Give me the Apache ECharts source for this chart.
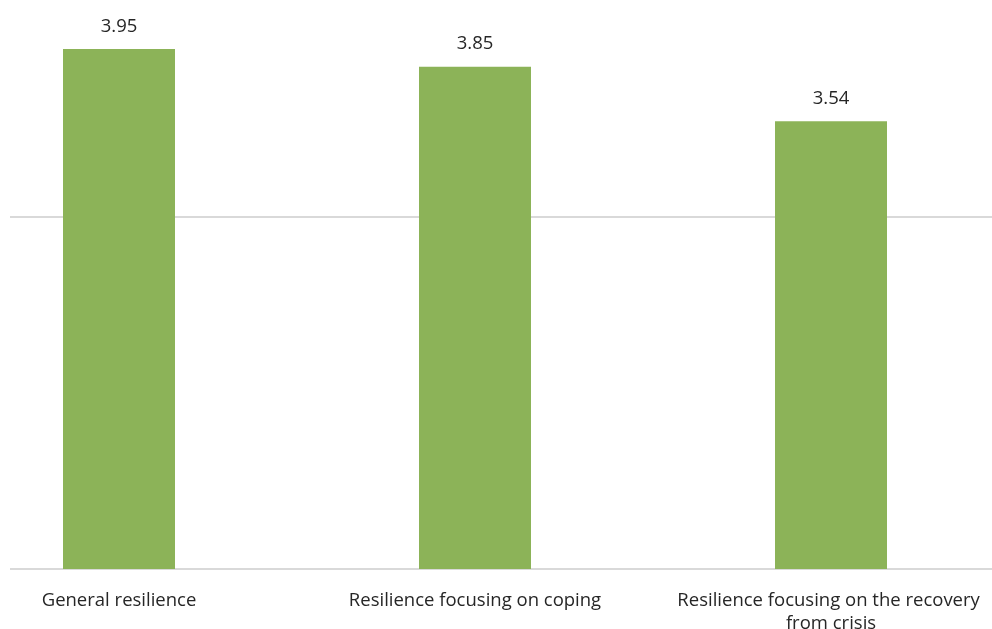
<!DOCTYPE html>
<html><head><meta charset="utf-8">
<script src="https://cdn.jsdelivr.net/npm/echarts@6/dist/echarts.min.js"></script>
<style>html,body{margin:0;padding:0;background:#fff}#c{width:992px;height:629px}</style>
</head><body><div id="c"></div>
<script>
const categories = ["General resilience", "Resilience focusing on coping", "Resilience focusing on the recovery from crisis"];
const values = [3.95, 3.85, 3.54];
const axisMin = 1, axisMax = 5, axisInterval = 2;

const chart = echarts.init(document.getElementById('c'), null, {renderer: 'canvas'});
chart.setOption({
  animation: false,
  backgroundColor: '#ffffff',
  grid: {left: -59, right: -17, top: -136, bottom: 60, containLabel: false, outerBoundsMode: 'none'},
  xAxis: {
    type: 'category', data: categories,
    axisLine: {show: false}, axisTick: {show: false},
    axisLabel: {
      interval: 0, margin: 20, color: '#262626',
      fontFamily: 'Open Sans', fontSize: 18.5, lineHeight: 23,
      width: 320, overflow: 'break'
    }
  },
  yAxis: {
    type: 'value', min: axisMin, max: axisMax, interval: axisInterval,
    axisLabel: {show: false}, axisLine: {show: false}, axisTick: {show: false},
    splitLine: {lineStyle: {color: '#d9d9d9', width: 2}}
  },
  series: [{
    type: 'bar', data: values, barWidth: 112,
    itemStyle: {color: '#8cb358'},
    label: {show: true, position: 'top', distance: 13, color: '#262626',
      fontFamily: 'Open Sans', fontSize: 18.5, formatter: p => p.value.toFixed(2)}
  }],
  graphic: [{type: 'rect', left: 0, top: 0, shape: {width: 10, height: 629}, style: {fill: '#ffffff'}, z: 100}]
});
</script></body></html>
